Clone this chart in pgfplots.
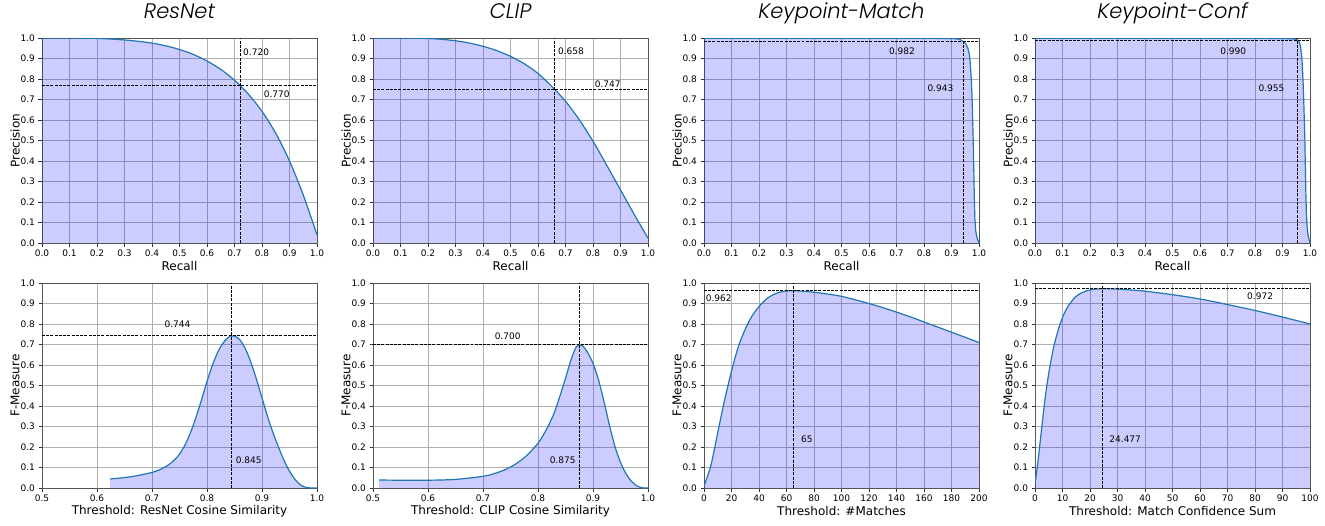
\documentclass[border=0pt]{standalone}
\usepackage{fontspec}
\setmainfont{DejaVu Sans}
\newfontfamily\titlefont{Poppins Light Italic}
\usepackage{pgfplots}
\usepackage{pgfplotstable}
\pgfplotsset{compat=1.18}
\definecolor{lineblue}{HTML}{1F77B4}
\definecolor{gridc}{HTML}{B0B0B0}
\definecolor{spinec}{HTML}{555555}

\pgfplotstableread{
x y
0 1.0
0.05 1.0
0.1 1.0
0.15 0.9995
0.2 0.998
0.25 0.995
0.3 0.9905
0.35 0.984
0.4 0.975
0.45 0.962
0.5 0.944
0.55 0.920
0.6 0.888
0.65 0.847
0.7 0.794
0.75 0.727
0.8 0.642
0.85 0.535
0.9 0.400
0.95 0.234
1.0 0.040
}\resPR

\pgfplotstableread{
x y
0 1.0
0.05 1.0
0.1 0.9995
0.15 0.999
0.2 0.9975
0.25 0.9935
0.3 0.9865
0.35 0.9755
0.4 0.9595
0.45 0.9385
0.5 0.9105
0.55 0.8745
0.6 0.827
0.65 0.764
0.7 0.6915
0.75 0.6015
0.8 0.4965
0.85 0.379
0.9 0.259
0.95 0.139
1.0 0.024
}\clipPR

\pgfplotstableread{
x y
0 0.999
0.9 0.998
0.93 0.994
0.943 0.982
0.952 0.972
0.96 0.948
0.965 0.92
0.968 0.88
0.972 0.80
0.975 0.70
0.977 0.60
0.979 0.50
0.981 0.36
0.983 0.22
0.985 0.12
0.988 0.06
0.992 0.03
1.0 0.0
}\kmPR

\pgfplotstableread{
x y
0 0.999
0.9 0.998
0.945 0.995
0.955 0.990
0.961 0.98
0.966 0.955
0.969 0.92
0.972 0.87
0.975 0.78
0.978 0.66
0.981 0.52
0.983 0.38
0.985 0.24
0.987 0.14
0.99 0.07
0.994 0.03
1.0 0.0
}\kcPR

\pgfplotstableread{
x y
0.624 0.044
0.65 0.051
0.675 0.061
0.70 0.076
0.71 0.085
0.72 0.097
0.73 0.113
0.74 0.135
0.75 0.165
0.76 0.21
0.77 0.27
0.78 0.345
0.79 0.43
0.80 0.52
0.81 0.60
0.82 0.665
0.83 0.71
0.84 0.737
0.85 0.741
0.86 0.722
0.87 0.678
0.88 0.612
0.89 0.53
0.90 0.44
0.91 0.35
0.92 0.27
0.93 0.20
0.94 0.135
0.95 0.082
0.96 0.042
0.97 0.015
0.98 0.003
0.99 0.0
1.0 0.0
}\resF

\pgfplotstableread{
x y
0.511 0.039
0.55 0.038
0.6 0.038
0.65 0.042
0.70 0.057
0.72 0.070
0.74 0.089
0.76 0.118
0.78 0.160
0.80 0.218
0.81 0.26
0.82 0.31
0.83 0.37
0.84 0.45
0.85 0.535
0.86 0.625
0.87 0.69
0.88 0.695
0.89 0.662
0.90 0.608
0.91 0.528
0.92 0.422
0.93 0.305
0.94 0.202
0.95 0.125
0.96 0.07
0.97 0.033
0.98 0.01
0.99 0.001
1.0 0.0
}\clipF

\pgfplotstableread{
x y
0 0.01
5 0.11
10 0.27
15 0.43
20 0.57
25 0.69
30 0.775
35 0.84
40 0.885
45 0.92
50 0.942
55 0.955
60 0.961
65 0.962
70 0.961
80 0.955
90 0.946
100 0.935
110 0.918
120 0.90
130 0.88
140 0.858
150 0.835
160 0.81
170 0.785
180 0.76
190 0.735
200 0.71
}\kmF

\pgfplotstableread{
x y
0 0.02
1 0.12
2 0.24
3 0.36
4 0.47
5 0.56
6 0.635
7 0.70
8 0.75
9 0.795
10 0.832
11 0.862
12 0.886
13 0.905
14 0.922
15 0.935
16 0.945
18 0.958
20 0.966
22 0.970
24.477 0.972
27 0.9715
30 0.970
35 0.966
40 0.960
50 0.943
60 0.922
70 0.895
80 0.866
90 0.834
100 0.80
}\kcF

\tikzset{ann/.style={anchor=west, inner sep=0pt, font=\fontsize{9}{10}\selectfont}}

\pgfplotsset{
  panel/.style={
    width=275pt, height=205pt, scale only axis,
    ymin=0, ymax=1,
    ytick={0,0.1,0.2,0.3,0.4,0.5,0.6,0.7,0.8,0.9,1.0},
    grid=major, major grid style={color=gridc, line width=0.8pt},
    axis line style={color=spinec, line width=0.8pt},
    tick align=outside, tick pos=left, major tick length=3.5pt,
    tick style={color=black!80, line width=0.8pt},
    ticklabel style={font=\fontsize{9}{10}\selectfont},
    /pgf/number format/assume math mode=true,
    yticklabel style={/pgf/number format/.cd, fixed, fixed zerofill, precision=1},
    label style={font=\fontsize{12}{14}\selectfont},
    xlabel style={at={(axis description cs:0.5,-0.112)}, anchor=center},
    ylabel style={at={(axis description cs:-0.098,0.5)}, anchor=center},
    title style={font=\titlefont\fontsize{21}{25}\selectfont, at={(axis description cs:0.5,1.064)}, anchor=base},
    anchor=north west,
  },
  unitx/.style={xmin=0, xmax=1, xtick={0,0.1,0.2,0.3,0.4,0.5,0.6,0.7,0.8,0.9,1.0},
    xticklabel style={/pgf/number format/.cd, fixed, fixed zerofill, precision=1}},
  halfx/.style={xmin=0.5, xmax=1, xtick={0.5,0.6,0.7,0.8,0.9,1.0},
    xticklabel style={/pgf/number format/.cd, fixed, fixed zerofill, precision=1}},
  curvefill/.style={draw=none, fill=blue, fill opacity=0.2, forget plot},
  curveline/.style={color=lineblue, line width=1.2pt, mark=none},
  dline/.style={black, line width=0.8pt, dash pattern=on 2.96pt off 1.28pt, mark=none},
}

\begin{document}
\begin{tikzpicture}
\path[use as bounding box] (0pt,0pt) rectangle (1325pt,-525pt);

% ---------- Top row ----------
\begin{axis}[panel, unitx, at={(42pt,-38pt)}, title={ResNet}, xlabel={Recall}, ylabel={Precision}]
\addplot[curvefill, smooth] table {\resPR} \closedcycle;
\addplot[curveline, smooth] table {\resPR};
\addplot[dline] coordinates {(0.720,0) (0.720,1)};
\addplot[dline] coordinates {(0,0.770) (1,0.770)};
\node[ann] at (axis cs:0.731,0.933) {0.720};
\node[ann] at (axis cs:0.806,0.727) {0.770};
\end{axis}

\begin{axis}[panel, unitx, at={(373pt,-38pt)}, title={CLIP}, xlabel={Recall}, ylabel={Precision}]
\addplot[curvefill, smooth] table {\clipPR} \closedcycle;
\addplot[curveline, smooth] table {\clipPR};
\addplot[dline] coordinates {(0.658,0) (0.658,1)};
\addplot[dline] coordinates {(0,0.747) (1,0.747)};
\node[ann] at (axis cs:0.672,0.935) {0.658};
\node[ann] at (axis cs:0.806,0.775) {0.747};
\end{axis}

\begin{axis}[panel, unitx, at={(704pt,-38pt)}, title={Keypoint-Match}, xlabel={Recall}, ylabel={Precision}]
\addplot[curvefill] table {\kmPR} \closedcycle;
\addplot[curveline] table {\kmPR};
\addplot[dline] coordinates {(0.943,0) (0.943,1)};
\addplot[dline] coordinates {(0,0.982) (1,0.982)};
\node[ann] at (axis cs:0.672,0.935) {0.982};
\node[ann] at (axis cs:0.812,0.755) {0.943};
\end{axis}

\begin{axis}[panel, unitx, at={(1035pt,-38pt)}, title={Keypoint-Conf}, xlabel={Recall}, ylabel={Precision}]
\addplot[curvefill] table {\kcPR} \closedcycle;
\addplot[curveline] table {\kcPR};
\addplot[dline] coordinates {(0.955,0) (0.955,1)};
\addplot[dline] coordinates {(0,0.990) (1,0.990)};
\node[ann] at (axis cs:0.673,0.935) {0.990};
\node[ann] at (axis cs:0.812,0.755) {0.955};
\end{axis}

% ---------- Bottom row ----------
\begin{axis}[panel, halfx, at={(42pt,-283pt)}, xlabel={Threshold: ResNet Cosine Similarity}, ylabel={F-Measure}]
\addplot[curvefill, smooth] table {\resF} \closedcycle;
\addplot[curveline, smooth] table {\resF};
\addplot[dline] coordinates {(0.845,0) (0.845,1)};
\addplot[dline] coordinates {(0.5,0.744) (1,0.744)};
\node[ann] at (axis cs:0.7226,0.80) {0.744};
\node[ann] at (axis cs:0.852,0.134) {0.845};
\end{axis}

\begin{axis}[panel, halfx, at={(373pt,-283pt)}, xlabel={Threshold: CLIP Cosine Similarity}, ylabel={F-Measure}]
\addplot[curvefill, smooth] table {\clipF} \closedcycle;
\addplot[curveline, smooth] table {\clipF};
\addplot[dline] coordinates {(0.875,0) (0.875,1)};
\addplot[dline] coordinates {(0.5,0.700) (1,0.700)};
\node[ann] at (axis cs:0.721,0.739) {0.700};
\node[ann] at (axis cs:0.821,0.134) {0.875};
\end{axis}

\begin{axis}[panel, at={(704pt,-283pt)}, xmin=0, xmax=200, xtick={0,20,40,60,80,100,120,140,160,180,200}, xlabel={Threshold: \#Matches}, ylabel={F-Measure}]
\addplot[curvefill, smooth] table {\kmF} \closedcycle;
\addplot[curveline, smooth] table {\kmF};
\addplot[dline] coordinates {(65,0) (65,1)};
\addplot[dline] coordinates {(0,0.962) (200,0.962)};
\node[ann] at (axis cs:1.2,0.928) {0.962};
\node[ann] at (axis cs:70.5,0.237) {65};
\end{axis}

\begin{axis}[panel, at={(1035pt,-283pt)}, xmin=0, xmax=100, xtick={0,10,20,30,40,50,60,70,80,90,100}, xlabel={Threshold: Match Confidence Sum}, ylabel={F-Measure}]
\addplot[curvefill, smooth] table {\kcF} \closedcycle;
\addplot[curveline, smooth] table {\kcF};
\addplot[dline] coordinates {(24.477,0) (24.477,1)};
\addplot[dline] coordinates {(0,0.972) (100,0.972)};
\node[ann] at (axis cs:77.1,0.935) {0.972};
\node[ann] at (axis cs:27.0,0.237) {24.477};
\end{axis}
\end{tikzpicture}
\end{document}
